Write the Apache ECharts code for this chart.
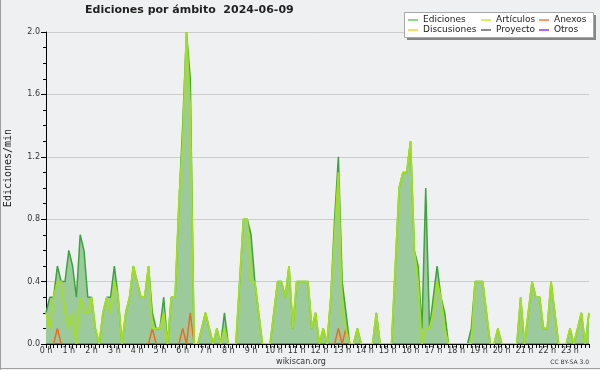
<!DOCTYPE html>
<html><head><meta charset="utf-8">
<script src="https://cdn.jsdelivr.net/npm/echarts@6/dist/echarts.min.js"></script>
<style>html,body{margin:0;padding:0;background:#eff0f1}#c{width:600px;height:370px}</style>
</head><body><div id="c"></div>
<script>
const hourLabels = ['0 h','1 h','2 h','3 h','4 h','5 h','6 h','7 h','8 h','9 h','10 h','11 h',
  '12 h','13 h','14 h','15 h','16 h','17 h','18 h','19 h','20 h','21 h','22 h','23 h'];
const minuteSteps = ['00','10','20','30','40','50'];
const yTicks = [0, 0.4, 0.8, 1.2, 1.6, 2.0];

// edits per minute, one value per 10-minute slot
const ediciones = [
  0.2,0.3,0.3,0.5,0.4,0.4,  0.6,0.5,0.3,0.7,0.6,0.3,  0.3,0.1,0.0,0.2,0.3,0.3,  0.5,0.3,0.0,0.2,0.3,0.5,
  0.4,0.3,0.3,0.5,0.2,0.1,  0.1,0.3,0.0,0.3,0.3,0.9,  1.4,2.0,1.7,0.0,0.0,0.1,  0.2,0.1,0.0,0.1,0.0,0.2,
  0.0,0.0,0.0,0.4,0.8,0.8,  0.7,0.4,0.2,0.0,0.0,0.0,  0.2,0.4,0.4,0.3,0.5,0.1,  0.4,0.4,0.4,0.4,0.1,0.2,
  0.0,0.1,0.0,0.3,0.8,1.2,  0.4,0.2,0.0,0.0,0.1,0.0,  0.0,0.0,0.0,0.2,0.0,0.0,  0.0,0.0,0.5,1.0,1.1,1.1,
  1.3,0.6,0.5,0.1,1.0,0.1,  0.3,0.5,0.3,0.2,0.0,0.0,  0.0,0.0,0.0,0.0,0.1,0.4,  0.4,0.4,0.2,0.0,0.0,0.1,
  0.0,0.0,0.0,0.0,0.0,0.3,  0.0,0.2,0.4,0.3,0.3,0.1,  0.1,0.4,0.2,0.0,0.0,0.0,  0.1,0.0,0.1,0.2,0.0,0.2
];
const articulos = [
  0.2,0.1,0.3,0.4,0.4,0.2,  0.1,0.2,0.0,0.3,0.2,0.2,  0.3,0.1,0.0,0.2,0.3,0.2,  0.4,0.3,0.0,0.2,0.3,0.5,
  0.4,0.3,0.3,0.5,0.1,0.1,  0.1,0.2,0.0,0.3,0.3,0.9,  1.3,2.0,1.5,0.0,0.0,0.1,  0.2,0.1,0.0,0.1,0.0,0.1,
  0.0,0.0,0.0,0.4,0.8,0.8,  0.4,0.4,0.2,0.0,0.0,0.0,  0.2,0.4,0.4,0.3,0.5,0.1,  0.4,0.4,0.4,0.4,0.1,0.2,
  0.0,0.1,0.0,0.3,0.7,1.1,  0.2,0.1,0.0,0.0,0.1,0.0,  0.0,0.0,0.0,0.2,0.0,0.0,  0.0,0.0,0.5,1.0,1.1,1.1,
  1.3,0.6,0.4,0.0,0.1,0.1,  0.2,0.4,0.3,0.1,0.0,0.0,  0.0,0.0,0.0,0.0,0.0,0.4,  0.4,0.4,0.2,0.0,0.0,0.1,
  0.0,0.0,0.0,0.0,0.0,0.3,  0.0,0.2,0.4,0.3,0.3,0.1,  0.1,0.4,0.2,0.0,0.0,0.0,  0.1,0.0,0.1,0.2,0.0,0.2
];
const anexos = [
  0,0,0,0.1,0,0,  0,0,0,0,0,0,  0,0,0,0,0,0,  0,0,0,0,0,0,
  0,0,0,0,0.1,0,  0,0,0,0,0,0,  0.1,0,0.2,0,0,0,  0,0,0,0,0,0,
  0,0,0,0,0,0,  0,0,0,0,0,0,  0,0,0,0,0,0,  0,0,0,0,0,0,
  0,0,0,0,0,0.1,  0,0.1,0,0,0,0,  0,0,0,0,0,0,  0,0,0,0,0,0,
  0,0,0,0,0,0,  0,0,0,0,0,0,  0,0,0,0,0,0,  0,0,0,0,0,0,
  0,0,0,0,0,0,  0,0,0,0,0,0,  0,0,0,0,0,0,  0,0,0,0,0,0
];
const discusiones = [
  0,0,0,0,0,0,0,0,0,0,0,0,0,0,0,0,0,0,0,0,0,0,0,0,
  0,0,0,0,0,0,0,0,0,0,0,0,0,0,0,0,0,0,0,0,0,0,0,0,
  0,0,0,0,0,0,0,0,0,0,0,0,0,0,0,0,0,0,0,0,0,0,0,0,
  0,0,0,0,0,0,0,0,0,0,0,0,0,0,0,0,0,0,0,0,0,0,0,0,
  0,0,0,0,0,0,0,0,0,0,0,0,0,0,0,0,0,0,0,0,0,0,0,0,
  0,0,0,0,0,0,0,0,0,0,0,0,0,0,0,0,0,0,0,0,0,0,0,0
];
const proyecto = [
  0,0,0,0,0,0,0,0,0,0,0,0,0,0,0,0,0,0,0,0,0,0,0,0,
  0,0,0,0,0,0,0,0,0,0,0,0,0,0,0,0,0,0,0,0,0,0,0,0,
  0,0,0,0,0,0,0,0,0,0,0,0,0,0,0,0,0,0,0,0,0,0,0,0,
  0,0,0,0,0,0,0,0,0,0,0,0,0,0,0,0,0,0,0,0,0,0,0,0,
  0,0,0,0,0,0,0,0,0,0,0,0,0,0,0,0,0,0,0,0,0,0,0,0,
  0,0,0,0,0,0,0,0,0,0,0,0,0,0,0,0,0,0,0,0,0,0,0,0
];
const otros = [
  0,0,0,0,0,0,0,0,0,0,0,0,0,0,0,0,0,0,0,0,0,0,0,0,
  0,0,0,0,0,0,0,0,0,0,0,0,0,0,0,0,0,0,0,0,0,0,0,0,
  0,0,0,0,0,0,0,0,0,0,0,0,0,0,0,0,0,0,0,0,0,0,0,0,
  0,0,0,0,0,0,0,0,0,0,0,0,0,0,0,0,0,0,0,0,0,0,0,0,
  0,0,0,0,0,0,0,0,0,0,0,0,0,0,0,0,0,0,0,0,0,0,0,0,
  0,0,0,0,0,0,0,0,0,0,0,0,0,0,0,0,0,0,0,0,0,0,0,0
];

const categories = [];
hourLabels.forEach((h, hi) => minuteSteps.forEach(m => categories.push(hi + ':' + m)));

const chart = echarts.init(document.getElementById('c'), null, {renderer: 'canvas'});
const FONT = 'DejaVu Sans';
const legendCommon = {
  orient: 'vertical', icon: 'rect', itemWidth: 10, itemHeight: 1.5, itemGap: 0, padding: 0,
  selectedMode: false, z: 10,
  textStyle: {fontFamily: FONT, fontSize: 9, color: '#222', lineHeight: 10}
};
const lineSeries = (name, data, color, width, z) => ({
  name, type: 'line', data, symbol: 'none', z,
  lineStyle: {color, width}, itemStyle: {color}, animation: false
});

chart.setOption({
  backgroundColor: '#eff0f1',
  animation: false,
  title: {
    text: 'Ediciones por ámbito  2024-06-09', left: 85, top: 5, padding: 0,
    textStyle: {fontFamily: FONT, fontSize: 11, fontWeight: 'bold', color: '#222'}
  },
  legend: [
    Object.assign({left: 408, top: 15, data: [
      {name: 'Ediciones', itemStyle: {color: '#66cc66'}},
      {name: 'Discusiones', itemStyle: {color: '#ffcc33'}}]}, legendCommon),
    Object.assign({left: 481, top: 15, data: [
      {name: 'Artículos', itemStyle: {color: '#ccee33'}},
      {name: 'Proyecto', itemStyle: {color: '#666666'}}]}, legendCommon),
    Object.assign({left: 539, top: 15, data: [
      {name: 'Anexos', itemStyle: {color: '#ff7733'}},
      {name: 'Otros', itemStyle: {color: '#9933ff'}}]}, legendCommon)
  ],
  grid: {left: 46, right: 11, top: 32, bottom: 26, containLabel: false},
  xAxis: {
    type: 'category', data: categories, boundaryGap: false, z: 6,
    axisLine: {show: true, lineStyle: {color: '#000', width: 1}},
    axisTick: {show: true, interval: 0, length: 4, lineStyle: {color: '#000'}},
    axisLabel: {
      interval: (i) => i % 6 === 0,
      formatter: (v, i) => hourLabels[Math.floor(i / 6)],
      fontFamily: FONT, fontSize: 8, color: '#333', margin: 3
    },
    splitLine: {show: false}
  },
  yAxis: {
    type: 'value', min: yTicks[0], max: yTicks[yTicks.length - 1], interval: 0.4,
    axisLine: {show: true, lineStyle: {color: '#000'}},
    axisTick: {show: true, length: 5, lineStyle: {color: '#000'}},
    minorTick: {show: true, splitNumber: 4, length: 3, lineStyle: {color: '#000'}},
    axisLabel: {formatter: (v) => v.toFixed(1), fontFamily: FONT, fontSize: 8, color: '#333', margin: 6},
    splitLine: {show: true, lineStyle: {color: '#cccccc', width: 1}}
  },
  graphic: [
    {type: 'rect', z: 1, shape: {x: 407, y: 15, width: 189, height: 25}, style: {fill: '#858585'}},
    {type: 'rect', z: 2, shape: {x: 404.5, y: 12.5, width: 189, height: 25}, style: {fill: '#ffffff', stroke: '#a8a8a8', lineWidth: 1}},
    {type: 'text', z: 5, x: 8, y: 168, rotation: Math.PI / 2,
      style: {text: 'Ediciones/min', font: '10px "DejaVu Sans Mono"', fill: '#222', textAlign: 'center', textVerticalAlign: 'middle'}},
    {type: 'text', z: 5, x: 301, y: 361.5,
      style: {text: 'wikiscan.org', font: '8px "DejaVu Sans"', fill: '#333', textAlign: 'center', textVerticalAlign: 'middle'}},
    {type: 'text', z: 5, x: 589, y: 362.5,
      style: {text: 'CC BY-SA 3.0', font: '6px "DejaVu Sans"', fill: '#333', textAlign: 'right', textVerticalAlign: 'middle'}},
    {type: 'line', z: 5, shape: {x1: 0.5, y1: 0, x2: 0.5, y2: 370}, style: {stroke: '#a0a0a0', lineWidth: 1}},
    {type: 'line', z: 5, shape: {x1: 0, y1: 368.5, x2: 600, y2: 368.5}, style: {stroke: '#a0a0a0', lineWidth: 1}}
  ],
  series: [
    Object.assign(lineSeries('Ediciones', ediciones, '#3ea33e', 1.5, 2),
      {areaStyle: {color: '#9dca9d', opacity: 1}}),
    lineSeries('Discusiones', discusiones, '#ffcc33', 1.5, 2),
    lineSeries('Proyecto', proyecto, '#666666', 1.5, 2),
    lineSeries('Otros', otros, '#9933ff', 1.5, 2),
    lineSeries('Anexos', anexos, '#f06a1e', 1.5, 3),
    lineSeries('Artículos', articulos, '#a4e01a', 1.8, 3)
  ]
});
</script></body></html>
